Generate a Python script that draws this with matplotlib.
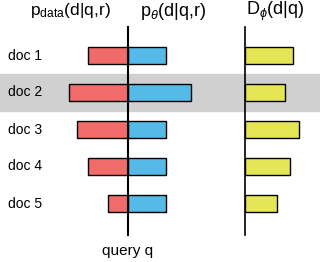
import matplotlib
matplotlib.use("Agg")
import matplotlib.pyplot as plt

docs = ["doc 1", "doc 2", "doc 3", "doc 4", "doc 5"]
p_data = [40, 59, 51, 40, 20]
p_theta = [38, 63, 38, 38, 38]
d_phi = [48, 40, 54, 45, 32]
titles = [r"p$_{\mathregular{data}}$(d|q,r)", r"p$_{\theta}$(d|q,r)", r"D$_{\phi}$(d|q)"]
xlabel = "query q"
highlight = 1

plt.rcParams['font.family'] = ['Liberation Sans', 'DejaVu Sans']
plt.rcParams['mathtext.fontset'] = 'custom'
plt.rcParams['mathtext.rm'] = 'Liberation Sans'
plt.rcParams['mathtext.it'] = 'Liberation Sans:italic'

fig = plt.figure(figsize=(3.2, 2.62), dpi=100)
ax = fig.add_axes([0, 0, 1, 1])
ax.set_xlim(0, 320)
ax.set_ylim(262, 0)
ax.axis('off')

ys = [55.5 + 37 * i for i in range(len(docs))]
h = 17
c1, c2 = 128, 245

ax.axhspan(ys[highlight] - 18.5, ys[highlight] + 18.5, color='#D0D0D0', zorder=0)

ax.barh(ys, [-v for v in p_data], left=c1, height=h, color='#F26B6B', edgecolor='black', linewidth=1, zorder=2)
ax.barh(ys, p_theta, left=c1, height=h, color='#56BAE8', edgecolor='black', linewidth=1, zorder=2)
ax.barh(ys, d_phi, left=c2, height=h, color='#E5E655', edgecolor='black', linewidth=1, zorder=2)

ax.plot([c1, c1], [27, 235], color='black', lw=1.5, zorder=3)
ax.plot([c2, c2], [27, 235], color='black', lw=1.2, zorder=3)

for y, d in zip(ys, docs):
    ax.text(8, y, d, ha='left', va='center', fontsize=10)

ax.text(70, 11, titles[0], ha='center', va='center', fontsize=12.5)
ax.text(173, 11, titles[1], ha='center', va='center', fontsize=13)
ax.text(275, 11, titles[2], ha='center', va='center', fontsize=13)
ax.text(128, 251, xlabel, ha='center', va='center', fontsize=11)

fig.savefig("out.png", dpi=100)
